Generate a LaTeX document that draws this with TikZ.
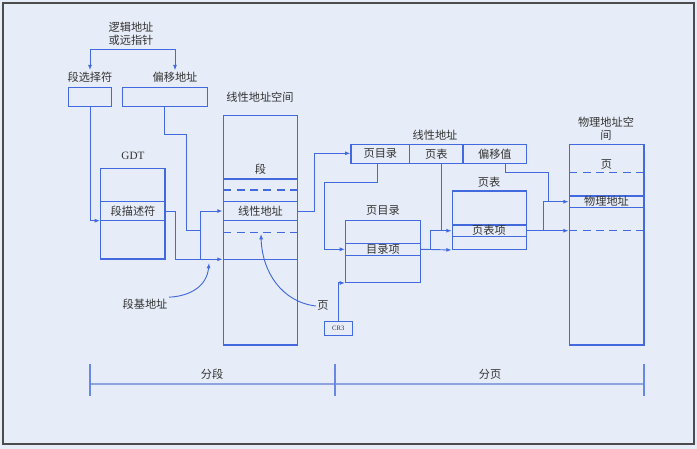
\documentclass[tikz,border=0pt]{standalone}
\usepackage{fontspec}
\setmainfont{Liberation Serif}
\newfontfamily\cjk{Noto Sans CJK SC}
\usetikzlibrary{arrows.meta,fit}
\definecolor{bgblue}{RGB}{231,237,248}
\definecolor{lineblue}{RGB}{66,106,222}
\definecolor{tlblue}{RGB}{140,165,225}
\definecolor{textgray}{RGB}{50,50,50}

\begin{document}
\begin{tikzpicture}[x=0.75pt,y=-0.75pt]
    \tikzset{box/.style = {draw=lineblue,line width=1pt,inner sep=0pt}}
    \tikzset{row/.style = {draw=lineblue,line width=0.8pt}}
    \tikzset{dashrow/.style = {row,dash pattern=on 6pt off 4pt}}
    \tikzset{conn/.style = {draw=lineblue,line width=0.7pt}}
    \tikzset{edge/.style = {conn,-{Latex[length=4pt,width=3pt]}}}
    \tikzset{lbl/.style = {font=\cjk\fontsize{8.4}{9.75}\selectfont,text=textgray,inner sep=1pt,align=center}}
    % background and frame
    \fill[bgblue] (0,0) rectangle (697,449);
    \draw[gray!60!black,line width=1pt] (3,3) rectangle (694,444);
    \useasboundingbox (0,0) rectangle (697,449);
    % logical address
    \node[lbl] (logic) at (131,34) {逻辑地址\\或远指针};
    \node[lbl] (selname) at (90,77) {段选择符};
    \node[lbl] (offname) at (175,77) {偏移地址};
    \coordinate (brk) at (132,49);
    \draw[edge] (brk) -| (selname.north);
    \draw[edge] (brk) -| (offname.north);
    \node[box,fit={(68.3,87.3) (111.7,106.7)}] (sel) {};
    \node[box,fit={(122.3,87.3) (207.3,106.7)}] (off) {};
%%%%%%%%%%%%%%%%%
    % GDT
    \node[lbl,font=\fontsize{8.4}{9.75}\selectfont] (gdtname) at (133,156) {GDT};
    \node[box,fit={(100.7,168.3) (165,259)}] (gdt) {};
    \draw[row] (100.7,201.7) -- (165,201.7);
    \draw[row] (100.7,220.7) -- (165,220.7);
    \node[lbl] (desc) at (133,211) {段描述符};
%%%%%%%%%%%%%%%%%
    % linear address space
    \node[lbl] (linname) at (260,97) {线性地址空间};
    \node[box,fit={(223.3,115.7) (297.7,345)}] (lin) {};
    \draw[row] (223.3,179) -- (297.7,179);
    \draw[dashrow] (223.3,190) -- (297.7,190);
    \draw[row] (223.3,201.3) -- (297.7,201.3);
    \draw[row] (223.3,220.7) -- (297.7,220.7);
    \draw[dashrow] (223.3,232.3) -- (297.7,232.3);
    \draw[row] (223.3,259.3) -- (297.7,259.3);
    \node[lbl] (seg) at (260.5,169) {段};
    \node[lbl] (linaddr) at (260.5,211) {线性地址};
    % segment connectors
    \draw[edge] (sel.south) |- (gdt.west |- 0,220.7);
    \draw[conn] (off.south) |- (186.7,134.3) |- (200.7,230);
    \draw[edge] (gdt.east |- 0,211) -| (175,259.3) -- (lin.west |- 0,259.3);
    \draw[edge] (200.7,259.3) -- (200.7,211) -- (lin.west |- 0,211);
    \node[lbl] (segbase) at (145,304) {段基地址};
    \draw[edge] (segbase.north east) .. controls (192,296) and (207,285) .. (209,263);
    \node[lbl] (pagelbl) at (323,306) {页};
    \draw[edge] (pagelbl.west) .. controls (282,302) and (262,272) .. (261,234);
%%%%%%%%%%%%%%%%%
    % linear address fields
    \node[lbl] (laname) at (435,135) {线性地址};
    \node[box,fit={(351,144.3) (409.7,163.3)}] (ladir) {};
    \node[box,fit={(409.7,144.3) (463,163.3)}] (latab) {};
    \node[box,fit={(463,144.3) (526.7,163.3)}] (laoff) {};
    \node[lbl] at (ladir) {页目录};
    \node[lbl] at (latab) {页表};
    \node[lbl] at (laoff) {偏移值};
    \draw[edge] (lin.east |- 0,211) -| (314,153.3) -- (ladir.west |- 0,153.3);
%%%%%%%%%%%%%%%%%
    % page directory
    \node[lbl] (pdirname) at (383,211) {页目录};
    \node[box,fit={(345.7,220.7) (420.3,282.3)}] (pdir) {};
    \draw[row] (345.7,243.7) -- (420.3,243.7);
    \draw[row] (345.7,255.3) -- (420.3,255.3);
    \node[lbl] (pde) at (383,249.5) {目录项};
    \node[box,fit={(324.3,321.7) (352.3,335.7)}] (cr3) {};
    \node[font=\fontsize{5}{6}\selectfont,text=textgray] at (cr3) {CR3};
    \draw[edge] (ladir.south -| 377.7,0) |- (324.3,182.3) |- (pdir.west |- 0,249.3);
    \draw[edge] (cr3.north) |- (pdir.south west);
%%%%%%%%%%%%%%%%%
    % page table
    \node[lbl] (ptabname) at (489,182) {页表};
    \node[box,fit={(452.3,191) (526.7,249.3)}] (ptab) {};
    \draw[row] (452.3,225) -- (526.7,225);
    \draw[row] (452.3,236.3) -- (526.7,236.3);
    \node[lbl] (pte) at (489,230.7) {页表项};
    \draw[edge] (pdir.east |- 0,249.3) -- (ptab.south west);
    \draw[edge] (430.7,249.3) |- (ptab.west |- 0,230.7);
    \draw[conn] (latab.south -| 441.7,0) -- (441.7,230.7);
%%%%%%%%%%%%%%%%%
    % physical address space
    \node[lbl] (physname) at (606,128.5) {物理地址空\\间};
    \node[box,fit={(569.3,144.3) (644,345)}] (phys) {};
    \draw[dashrow] (569.3,172.7) -- (644,172.7);
    \draw[row] (569.3,196) -- (644,196);
    \draw[row] (569.3,207.3) -- (644,207.3);
    \draw[dashrow] (569.3,230.7) -- (644,230.7);
    \node[lbl] (ppage) at (606.5,165) {页};
    \node[lbl] (paddr) at (606.5,201.5) {物理地址};
    \draw[edge] (ptab.east |- 0,230.7) -- (phys.west |- 0,230.7);
    \draw[edge] (543.3,230.7) |- (phys.west |- 0,201.7);
    \draw[conn] (laoff.south -| 505,0) |- (548.3,172.7) -- (548.3,201.7);
%%%%%%%%%%%%%%%%%
    % stages
    \coordinate (t0) at (90,384);
    \coordinate (t1) at (335,384);
    \coordinate (t2) at (643.7,384);
    \draw[tlblue,line width=1.6pt] (t0) -- (t2);
    \foreach \t in {t0,t1,t2}
        \draw[lineblue!80,line width=1.2pt] ([yshift=15pt]\t) -- ([yshift=-9pt]\t);
    \node[lbl] (segstage) at (212,374) {分段};
    \node[lbl] (pagestage) at (490,374) {分页};
\end{tikzpicture}
\end{document}
